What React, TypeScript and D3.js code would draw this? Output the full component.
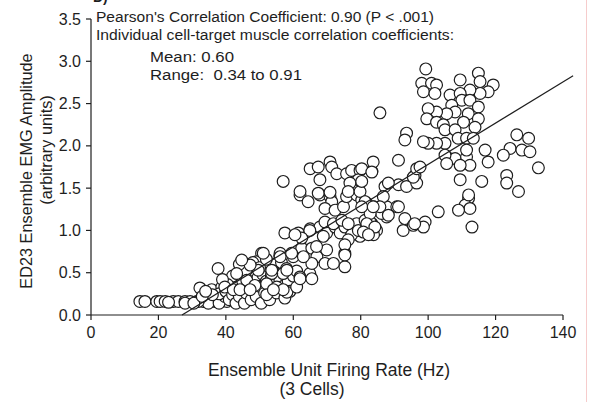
import React from "react";
import * as d3 from "d3";

const xTicks = [0, 20, 40, 60, 80, 100, 120, 140];
const yTicks = [0, 0.5, 1.0, 1.5, 2.0, 2.5, 3.0, 3.5];

const annotationLines = [
  "Pearson's Correlation Coefficient: 0.90 (P < .001)",
  "Individual cell-target muscle correlation coefficients:",
  "Mean: 0.60",
  "Range:  0.34 to 0.91",
];

const xTitle = ["Ensemble Unit Firing Rate (Hz)", "(3 Cells)"];
const yTitle = ["ED23 Ensemble EMG Amplitude", "(arbitrary units)"];

// regression line endpoints [firing rate, amplitude]
const fitX = [27, 143];
const fitY = [0, 2.83];

// scatter points: [firing rate (Hz), EMG amplitude]
const lowRow = [
  [14.5,0.16],[16,0.16],[19.5,0.16],[20.5,0.16],[22,0.16],[24.4,0.16],[25.9,0.16],[27.9,0.16],[29.4,0.16],[31.4,0.16],
  [33.3,0.16],[35.3,0.16],[36.8,0.16],[27.9,0.14],[34.8,0.14],[31.8,0.16],[40.3,0.16],[23,0.15],[30.5,0.14],[38,0.14],
];
const lowCluster = [
  [32.3,0.32],[35.8,0.30],[38.8,0.33],[39.7,0.22],[41.7,0.39],[42.7,0.30],[44.7,0.30],[46.7,0.32],[45.7,0.20],[48.7,0.30],
  [50.6,0.73],[51.6,0.57],[53.6,0.30],[44.7,0.51],[46.7,0.59],[49.1,0.63],[43.7,0.45],[37.7,0.55],
  [38,0.25],[40,0.28],[41,0.18],[42,0.24],[43,0.14],[43.5,0.34],[44,0.22],[45,0.40],[45.5,0.14],[46,0.26],[47,0.46],[47.5,0.18],
  [48,0.38],[48.5,0.52],[49,0.22],[49.5,0.44],[50,0.34],[50.5,0.14],[51,0.48],[51.5,0.26],[52,0.40],[52.5,0.58],
  [53,0.18],[53.5,0.46],[54,0.36],[54.5,0.60],[55,0.26],[55.5,0.50],[56,0.42],[56.5,0.62],[57,0.34],[57.5,0.20],
  [58,0.55],[58.5,0.40],[46,0.52],[44,0.60],[42,0.46],[40.5,0.36],[39,0.42],[36,0.24],[33,0.22],[34,0.28],
  [48,0.62],[50,0.56],[52,0.66],[54,0.52],[56,0.70],[59,0.28],[60,0.46],[61,0.52],
];
const midLow = [
  [51.1,0.73],[56.1,0.73],[60,0.69],[62.5,0.79],[65.5,0.79],[67,0.69],[69.9,0.77],[75.3,0.73],[75.3,0.57],[69.4,0.61],
  [71.9,0.61],[64.9,0.49],[62,0.45],[57,0.49],[53.6,0.49],[49.6,0.53],[47.2,0.59],[44.7,0.65],[43.2,0.49],[46.2,0.41],
  [48.6,0.35],[52.1,0.37],[55.1,0.33],[58.1,0.27],[61,0.33],[39.7,0.33],[42.2,0.30],[44.2,0.30],[47.2,0.30],[52.1,0.24],
];
const midBand = [
  [57.5,0.97],[61.5,0.97],[65,1.02],[67.9,1.04],[69.9,0.97],[72.4,1.04],[73.9,0.97],[75.3,1.04],[78.8,1.08],[81.3,1.12],
  [83.3,1.08],[84.7,1.00],[83.8,0.95],[79.8,0.93],[77.3,0.95],[76.3,0.89],
  [69.4,1.10],[71.9,1.08],[74.4,1.12],[76.3,1.08],[79.3,1.00],[81.8,1.04],[82.8,1.10],[68.9,0.93],[64.9,1.00],[62.5,0.91],
  [60.5,0.95],[75.3,0.83],[75.3,0.71],[66.9,0.81],[65.5,0.61],[62,0.43],[65.5,0.43],[58.1,0.53],[57,0.30],[54.1,0.30],
  [53.6,0.53],[56.1,0.69],[59.5,0.73],[63,0.69],[87.7,1.16],[93.1,1.14],[92.6,1.00],[95.6,1.06],
];
const midHigh = [
  [62,1.42],[64.4,1.34],[67.9,1.42],[70.9,1.40],[71.4,1.34],[69.4,1.26],[72.4,1.24],[74.9,1.28],[75.8,1.40],[78.8,1.42],
  [80.3,1.36],[81.8,1.32],[83.8,1.28],[86.2,1.20],[87.7,1.28],[90.7,1.28],
  [65,1.73],[67.4,1.75],[70.9,1.81],[71.4,1.75],[67.9,1.60],[72.9,1.67],[75.8,1.67],[77.3,1.71],[79.8,1.71],[79.3,1.60],
  [76.8,1.56],[83.3,1.70],[57,1.58],
  [62,1.46],[67.4,1.44],[70.9,1.45],[76.3,1.46],[79.8,1.46],[87.2,1.52],[91.2,1.54],[93.6,1.52],[96.1,1.65],[96.6,1.56],
  [91.2,1.83],[85.7,2.39],[93.6,2.15],[93.1,2.07],
  [80.3,1.73],[83.7,1.81],[83.3,1.69],[80.3,1.58],[86.7,1.40],[88.2,1.56],[95.6,1.63],[96.6,1.73],[97.6,1.75],[91.2,1.28],
  [81.3,1.34],[82.8,1.20],[81.8,1.08],[84.2,1.04],[80.8,0.98],[85.7,1.28],[88.2,1.18],[80.3,1.28],[83.7,1.28],[82.3,0.95],
  [99.1,1.10],[98.6,1.04],[96,1.08],
  [103,1.22],[112,1.38],[111,1.30],[112.4,1.26],[109,1.24],[113,1.04],[126.8,1.46],
];
const highCluster = [
  [99.3,2.91],[98.1,2.74],[101,2.74],[102.5,2.72],[98.6,2.64],[102,2.62],[109.5,2.78],[114.9,2.86],[115.4,2.76],[119.3,2.72],
  [117.8,2.64],[115.4,2.62],[112.4,2.66],[106.5,2.60],[109.5,2.62],[110,2.54],[107,2.48],[112.4,2.54],[114.9,2.46],[111.9,2.38],
  [114.9,2.32],[113.9,2.22],[110.5,2.28],[108,2.40],[105.5,2.38],[102.5,2.40],[100,2.44],[99.6,2.32],[102.5,2.28],[104.5,2.25],
  [105,2.19],[108,2.19],[108.9,2.09],[111.4,2.09],[113.4,2.09],[105,2.03],[102.5,2.03],[100,2.03],[98.6,2.05],[105.5,1.87],
  [108,1.85],[111.4,1.87],[112.4,1.77],[116.9,1.95],[117.8,1.81],[109.5,1.77],[111.4,1.95],[105,1.89],[105.5,1.79],
  [126.3,2.13],[129.8,2.09],[124.3,1.97],[127.8,1.95],[130.2,1.93],[122.3,1.89],[132.7,1.74],[109.5,1.60],[115.9,1.58],[123.3,1.65],
  [123.3,1.56],[112,1.42],
];

const allPoints = [...lowRow, ...lowCluster, ...midLow, ...midBand, ...midHigh, ...highCluster];

const W = 594;
const H = 402;
const FONT = "'Liberation Sans', Arial, sans-serif";
const INK = "#1e1e1e";

export default function App() {
  const x = d3.scaleLinear().domain([0, 140]).range([91, 563]);
  const y = d3.scaleLinear().domain([0, 3.5]).range([315, 19]);
  const line = d3.line<number>().x((d, i) => x(fitX[i])).y((d, i) => y(fitY[i]));

  return (
    <svg
      width={W}
      height={H}
      viewBox={`0 0 ${W} ${H}`}
      style={{ position: "absolute", left: 0, top: 0, background: "#fff", display: "block" }}
      fontFamily={FONT}
    >
      <rect x={0} y={0} width={W} height={H} fill="#fff" />
      <line x1={586.5} x2={586.5} y1={0} y2={H} stroke="#f6cccc" strokeWidth={1} />
      <text x={93} y={2} fontSize={14} fontWeight="bold" fill={INK}>D)</text>

      {/* points */}
      <g>
        {allPoints.map((p, i) => (
          <circle key={i} cx={x(p[0])} cy={y(p[1])} r={5.9} fill="#fff" stroke={INK} strokeWidth={1.2} />
        ))}
      </g>

      {/* regression line */}
      <path d={line(fitX) || ""} fill="none" stroke={INK} strokeWidth={1.2} />

      {/* axes */}
      <g stroke={INK} strokeWidth={1.2} fill="none">
        <line x1={x(0)} x2={x(0)} y1={y(3.5)} y2={y(0)} />
        <line x1={x(0)} x2={x(140)} y1={y(0)} y2={y(0)} />
        {yTicks.map((t) => (
          <line key={"yt" + t} x1={x(0) - 5} x2={x(0)} y1={y(t)} y2={y(t)} />
        ))}
        {xTicks.map((t) => (
          <line key={"xt" + t} x1={x(t)} x2={x(t)} y1={y(0)} y2={y(0) + 5} />
        ))}
      </g>
      <g fontSize={16} fill={INK}>
        {yTicks.map((t) => (
          <text key={"yl" + t} x={x(0) - 10} y={y(t) + 5.5} textAnchor="end">
            {d3.format(".1f")(t)}
          </text>
        ))}
        {xTicks.map((t) => (
          <text key={"xl" + t} x={x(t)} y={338} textAnchor="middle">
            {t}
          </text>
        ))}
      </g>

      {/* annotation */}
      <g fontSize={15.5} fill={INK}>
        <text x={96} y={22} textLength={338} lengthAdjust="spacingAndGlyphs">{annotationLines[0]}</text>
        <text x={96} y={40} textLength={358} lengthAdjust="spacingAndGlyphs">{annotationLines[1]}</text>
        <text x={150} y={62} textLength={84} lengthAdjust="spacingAndGlyphs">{annotationLines[2]}</text>
        <text x={150} y={80} style={{ whiteSpace: "pre" }} textLength={152} lengthAdjust="spacingAndGlyphs">{annotationLines[3]}</text>
      </g>

      {/* axis titles */}
      <g fill={INK} textAnchor="middle">
        <text x={329} y={376} fontSize={17.5}>{xTitle[0]}</text>
        <text x={312} y={395} fontSize={17.5}>{xTitle[1]}</text>
        <text transform="translate(32,171) rotate(-90)" fontSize={16.3}>{yTitle[0]}</text>
        <text transform="translate(52,150) rotate(-90)" fontSize={16.3}>{yTitle[1]}</text>
      </g>
    </svg>
  );
}
